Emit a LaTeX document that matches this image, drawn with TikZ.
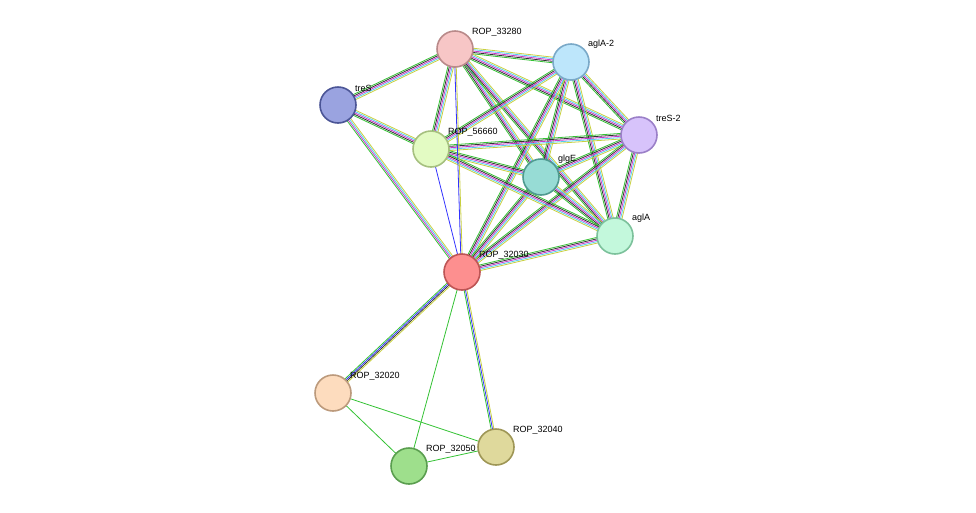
\documentclass[tikz,border=0pt]{standalone}
\usepackage{fontspec}
\setmainfont{Liberation Sans}
\usetikzlibrary{calc,backgrounds}
\definecolor{cgreen}{HTML}{33C233}
\definecolor{cblue}{HTML}{3333FF}
\definecolor{ccyan}{HTML}{55CCEE}
\definecolor{cmag}{HTML}{CC33CC}
\definecolor{cyel}{HTML}{C8D040}
\definecolor{cblack}{HTML}{333333}
% node fills / borders
\definecolor{fa}{HTML}{F7C6C6}\definecolor{da}{HTML}{B98A8A}
\definecolor{fb}{HTML}{BDE6FB}\definecolor{db}{HTML}{7AA9C8}
\definecolor{fc}{HTML}{9AA3E0}\definecolor{dc}{HTML}{4B5596}
\definecolor{fd}{HTML}{D7C3FB}\definecolor{dd}{HTML}{9B80C8}
\definecolor{fe}{HTML}{E3FBC3}\definecolor{de}{HTML}{A6C07F}
\definecolor{ff}{HTML}{97DCD5}\definecolor{df}{HTML}{4F9A90}
\definecolor{fg}{HTML}{C3F8DC}\definecolor{dg}{HTML}{7CC19B}
\definecolor{fh}{HTML}{FD8F8F}\definecolor{dh}{HTML}{BD5555}
\definecolor{fi}{HTML}{FDDCBE}\definecolor{di}{HTML}{BC9A7C}
\definecolor{fj}{HTML}{DFD99C}\definecolor{dj}{HTML}{9E9656}
\definecolor{fk}{HTML}{9EDF8C}\definecolor{dk}{HTML}{5A9E4F}
\tikzset{
  prot/.style 2 args={circle,draw=#2,fill=#1,line width=1.6pt,minimum size=36pt,inner sep=0pt},
  lbl/.style={font=\fontsize{9}{10}\selectfont,anchor=south west,inner sep=1pt}
}
\newcommand{\edgeset}[3]{%
  \def\n{0}\foreach \c in {#3} {\xdef\n{\the\numexpr\n+1\relax}}%
  \foreach \c [count=\i] in {#3} {
    \pgfmathsetmacro{\o}{(\i-(\n+1)/2)*1.4}
    \draw[\c,line width=0.8pt] ($(#1.center)!\o pt!90:(#2.center)$) -- ($(#2.center)!\o pt!-90:(#1.center)$);
  }}
\begin{document}
\begin{tikzpicture}[x=1pt,y=-1pt]
\useasboundingbox (0,0) rectangle (976,512);
\node[prot={fa}{da}] (r33280) at (455,49) {};
\node[prot={fb}{db}] (agla2) at (571,62) {};
\node[prot={fc}{dc}] (tres) at (338,105) {};
\node[prot={fd}{dd}] (tres2) at (639,135) {};
\node[prot={fe}{de}] (r56660) at (431,149) {};
\node[prot={ff}{df}] (glge) at (541,177) {};
\node[prot={fg}{dg}] (agla) at (615,236) {};
\node[prot={fh}{dh}] (r32030) at (462,272) {};
\node[prot={fi}{di}] (r32020) at (333,393) {};
\node[prot={fj}{dj}] (r32040) at (496,447) {};
\node[prot={fk}{dk}] (r32050) at (409,466) {};
% labels
\foreach \n/\t in {r33280/ROP\_33280,agla2/aglA-2,tres/treS,tres2/treS-2,r56660/ROP\_56660,
  glge/glgE,agla/aglA,r32030/ROP\_32030,r32020/ROP\_32020,r32040/ROP\_32040,r32050/ROP\_32050}
  \node[lbl] at ($(\n.center)+(16,-12)$) {\t};
\begin{pgfonlayer}{background}
% dense cluster
\foreach \a/\b in {r33280/agla2,r33280/tres2,r33280/glge,r33280/agla,r33280/r56660,
  agla2/tres2,agla2/glge,agla2/agla,agla2/r32030,tres2/glge,tres2/agla,tres2/r32030,
  tres2/r56660,glge/agla,glge/r32030,glge/r56660,agla/r32030,agla/r56660,agla2/r56660,
  r33280/tres,tres/r56660}
  \edgeset{\a}{\b}{cgreen,cblack,cmag,ccyan,cyel};
\edgeset{tres}{r32030}{cgreen,cmag,ccyan,cyel}
\edgeset{r33280}{r32030}{cblue,cyel}
\edgeset{r56660}{r32030}{cblue}
\edgeset{r32030}{r32020}{cgreen,cblue,cblack,cyel}
\edgeset{r32030}{r32040}{cgreen,cblue,cyel}
\foreach \a/\b in {r32030/r32050,r32020/r32050,r32020/r32040,r32050/r32040}
  \edgeset{\a}{\b}{cgreen};
\end{pgfonlayer}
\end{tikzpicture}
\end{document}
